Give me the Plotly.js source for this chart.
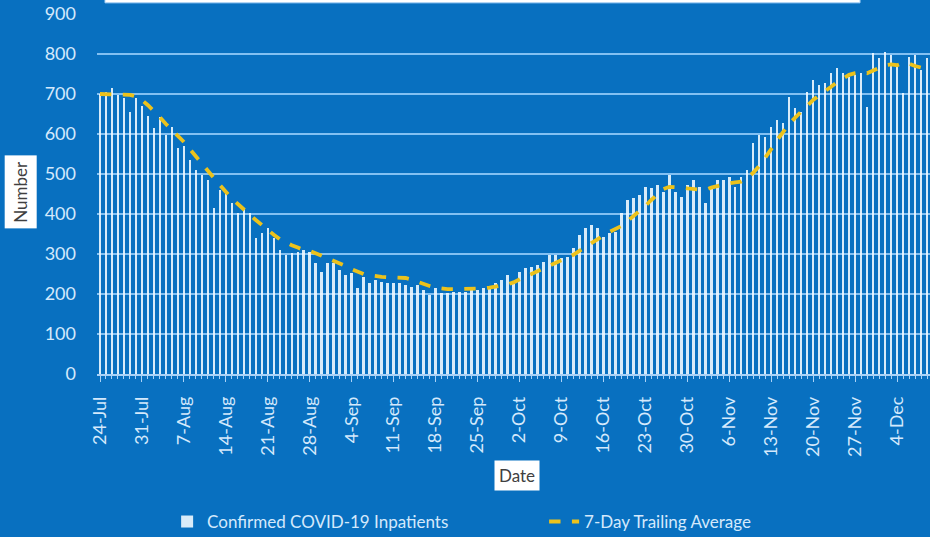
<!DOCTYPE html>
<html><head><meta charset="utf-8">
<script src="https://cdn.plot.ly/plotly-3.0.1.min.js"></script>
<style>html,body{margin:0;padding:0;background:#0870c0;}#chart{width:930px;height:537px;}</style>
</head><body><div id="chart"></div>
<script>
const startDate = [2020, 6, 24];
const inpatients = [
700,705,715,698,690,655,690,670,645,615,643,598,618,565,570,535,510,498,485,415,
460,452,427,402,415,402,340,352,365,340,310,298,302,305,310,306,277,256,277,277,
260,248,252,214,243,227,235,231,227,227,227,222,218,222,210,197,214,202,202,206,
206,206,210,210,214,218,227,235,248,227,256,264,268,272,281,297,297,289,293,314,
347,364,372,364,343,352,356,402,435,439,447,468,464,472,456,497,456,443,472,485,
468,427,470,485,485,493,468,493,510,577,598,593,618,635,627,693,664,656,706,735,
722,727,752,764,752,743,748,752,668,802,789,806,798,773,702,793,798,760,789];
const trailingAvg = [
700,700,700,700,700,698,694,685,672,658,642,625,610,598,580,562,543,525,508,490,
472,455,438,425,410,398,385,372,360,348,337,329,322,316,310,308,302,296,290,284,
277,270,262,255,250,247,244,243,242,242,242,240,236,230,225,220,216,213,212,212,
212,212,213,214,214,216,218,220,224,229,237,244,250,257,264,271,278,285,292,298,
308,318,328,338,346,355,362,370,382,394,406,420,435,448,462,468,468,466,464,462,
461,460,466,470,474,477,479,481,490,503,520,540,562,585,607,625,641,656,672,685,
697,707,718,730,740,748,752,754,752,758,765,772,774,772,778,776,770,766,762];
const tickDates = ['2020-07-24','2020-07-31','2020-08-07','2020-08-14','2020-08-21','2020-08-28',
'2020-09-04','2020-09-11','2020-09-18','2020-09-25','2020-10-02','2020-10-09','2020-10-16',
'2020-10-23','2020-10-30','2020-11-06','2020-11-13','2020-11-20','2020-11-27','2020-12-04'];
const tickLabels = ['24-Jul','31-Jul','7-Aug','14-Aug','21-Aug','28-Aug','4-Sep','11-Sep','18-Sep',
'25-Sep','2-Oct','9-Oct','16-Oct','23-Oct','30-Oct','6-Nov','13-Nov','20-Nov','27-Nov','4-Dec'];
const seriesNames = ['Confirmed COVID-19 Inpatients', '7-Day Trailing Average'];

const dates = inpatients.map((_, i) =>
  new Date(Date.UTC(startDate[0], startDate[1], startDate[2] + i)).toISOString().slice(0, 10));
const DAY = 86400000;
const BG = '#0870c0';
const LIGHT = '#d4e9fc';
const FONT = 'Lato, "Open Sans", sans-serif';

const traces = [
  {type: 'bar', x: dates, y: inpatients, name: seriesNames[0], width: 0.42 * DAY,
   marker: {color: 'rgba(240,248,255,0.9)', line: {width: 0}}},
  {type: 'scatter', mode: 'lines', x: dates, y: trailingAvg, name: seriesNames[1],
   line: {color: '#ecc21c', width: 3.8, dash: 'dash'}}
];

const layout = {
  width: 930, height: 537,
  paper_bgcolor: BG, plot_bgcolor: BG,
  font: {family: FONT, color: LIGHT, size: 18},
  margin: {l: 97, r: 0, t: 14, b: 162.5},
  bargap: 0,
  showlegend: true,
  legend: {orientation: 'h', xref: 'container', yref: 'container', x: 0.1797, y: 0.028,
    xanchor: 'left', yanchor: 'middle', font: {size: 17, color: LIGHT},
    entrywidth: 332, entrywidthmode: 'pixels', bgcolor: 'rgba(0,0,0,0)', traceorder: 'normal'},
  xaxis: {type: 'date', range: [new Date(Date.UTC(2020,6,23,12)).toISOString(), new Date(Date.UTC(2020,11,9,12)).toISOString()],
    tickvals: tickDates, ticktext: tickLabels, tickangle: -90,
    tickfont: {size: 18, color: LIGHT}, ticks: 'outside', ticklen: 6, tickcolor: '#a9d2f7',
    ticklabelstandoff: 8,
    minor: {dtick: DAY, tick0: '2020-07-24', ticks: 'outside', ticklen: 3, tickcolor: '#a9d2f7', showgrid: false},
    showline: true, linecolor: '#a9d2f7', linewidth: 1.5, showgrid: false, zeroline: false, fixedrange: true},
  yaxis: {range: [0, 900], dtick: 100, tick0: 0, showgrid: true, gridcolor: '#82c0f2', gridwidth: 1.6,
    zeroline: false, showline: false, tickfont: {size: 18, color: LIGHT}, ticklabelstandoff: 20, fixedrange: true},
  annotations: [
    {text: 'Number', xref: 'paper', yref: 'paper', x: -0.0912, y: 0.506, textangle: -90,
     xanchor: 'center', yanchor: 'middle',
     showarrow: false, bgcolor: '#ffffff', font: {size: 17, color: '#404040'}, borderpad: 5},
    {text: 'Date', xref: 'paper', yref: 'paper', x: 0.504, y: -0.2816,
     xanchor: 'center', yanchor: 'middle',
     showarrow: false, bgcolor: '#ffffff', font: {size: 17, color: '#404040'}, borderpad: 4}
  ],
  shapes: [
    {type: 'rect', xref: 'paper', yref: 'paper', x0: 0.0096, x1: 0.916, y0: 1.031, y1: 1.2,
     fillcolor: '#ffffff', line: {color: '#a9d2f7', width: 1}}
  ]
};

Plotly.newPlot('chart', traces, layout, {displayModeBar: false, staticPlot: true});
</script></body></html>
